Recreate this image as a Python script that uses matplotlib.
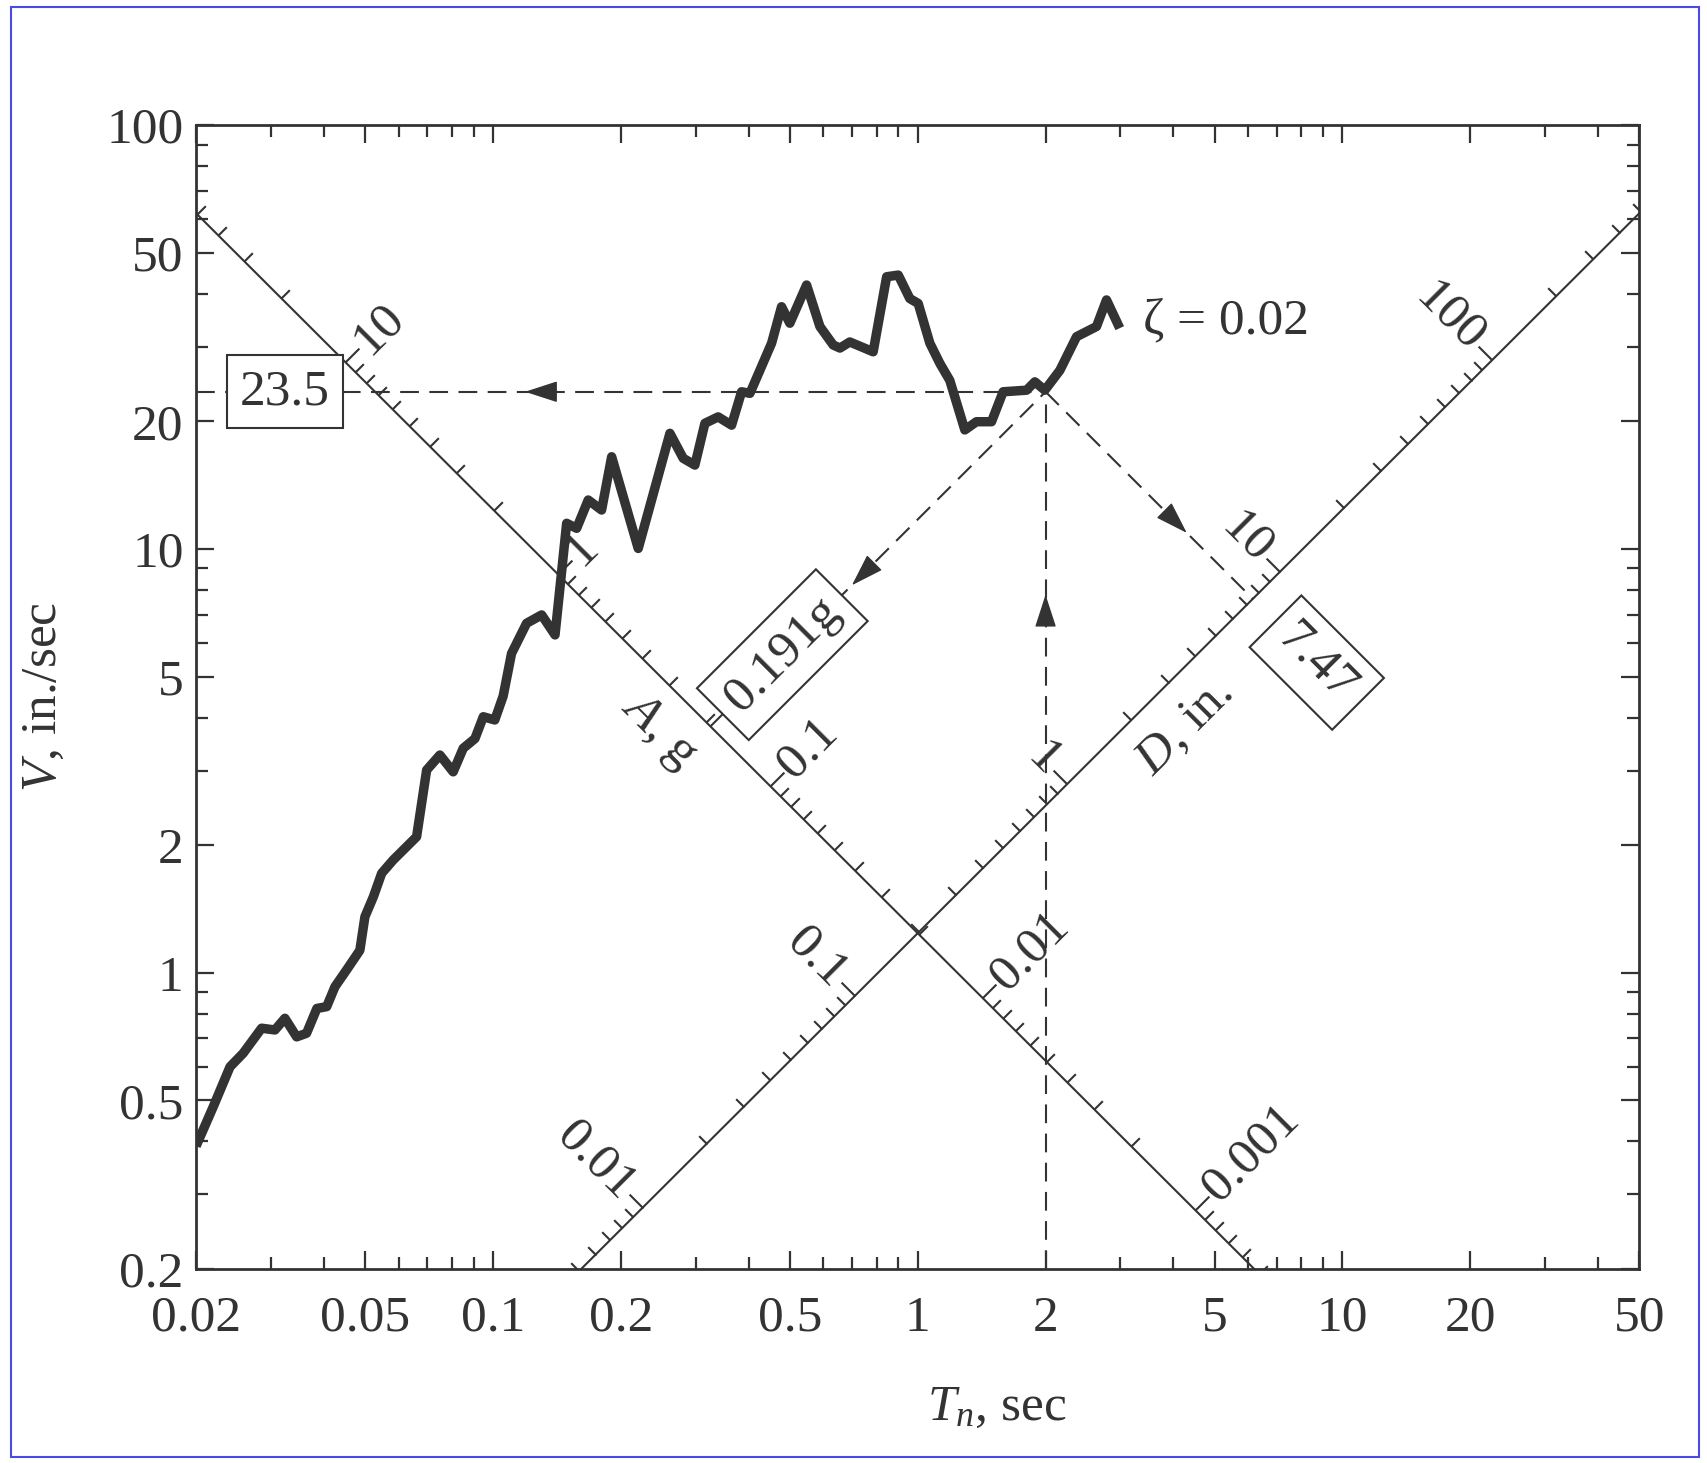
import numpy as np
import matplotlib

matplotlib.use("Agg")
import matplotlib.pyplot as plt  # noqa: E402
from matplotlib.path import Path  # noqa: E402
from matplotlib.patches import Rectangle  # noqa: E402
from matplotlib.ticker import NullFormatter  # noqa: E402

plt.rcParams["font.family"] = ["Liberation Serif", "DejaVu Serif"]
plt.rcParams["mathtext.fontset"] = "custom"
plt.rcParams["mathtext.rm"] = "Liberation Serif"
plt.rcParams["mathtext.it"] = "Liberation Serif:italic"

INK = "#333333"
FS = 37
G = 386.0  # in./sec^2

# ---------------------------------------------------------------------------
# pseudo-velocity spectrum, zeta = 0.02
# ---------------------------------------------------------------------------
T_n = [0.0200, 0.02195, 0.02404, 0.02582, 0.02853, 0.03067, 0.03237, 0.0345,
       0.0364, 0.0385, 0.0406, 0.04246, 0.0452, 0.0486, 0.04995, 0.0523,
       0.0547, 0.0582, 0.0661, 0.0698, 0.0750, 0.0806, 0.0851, 0.0907,
       0.0949, 0.101, 0.1057, 0.1106, 0.120, 0.1302, 0.140, 0.1491, 0.1574,
       0.1676, 0.1802, 0.1903, 0.2198, 0.2610, 0.2805, 0.2988, 0.3155, 0.339,
       0.3646, 0.3849, 0.4027, 0.425, 0.4529, 0.478, 0.500, 0.5475, 0.5885,
       0.6324, 0.656, 0.692, 0.7855, 0.845, 0.90, 0.958, 1.0026, 1.068, 1.128,
       1.19, 1.291, 1.375, 1.492, 1.589, 1.804, 1.887, 1.992, 2.161, 2.366,
       2.636, 2.783, 2.99]
V = [0.39, 0.483, 0.600, 0.646, 0.740, 0.733, 0.781, 0.706, 0.720, 0.824,
     0.832, 0.927, 1.015, 1.13, 1.356, 1.512, 1.717, 1.845, 2.094, 3.009,
     3.265, 2.98, 3.386, 3.57, 4.02, 3.95, 4.5, 5.67, 6.68, 6.99, 6.27, 11.5,
     11.19, 13.05, 12.36, 16.51, 10.03, 18.75, 16.37, 15.78, 19.8, 20.5, 19.6,
     23.5, 23.3, 26.4, 30.6, 37.3, 34.1, 41.97, 33.5, 30.3, 29.8, 30.8, 29.2,
     43.9, 44.3, 39.0, 37.97, 30.6, 27.4, 25.0, 19.1, 19.97, 19.97, 23.5,
     23.7, 24.8, 23.7, 26.4, 31.7, 33.5, 38.7, 33.2]

# worked example at T_n = 2 sec
T_pt, V_pt = 2.0, 23.5
A_pt, D_pt = 0.191, 7.47

# the two diagonal scales: A axis is V*T = c_A, D axis is V/T = b_D
c_A = 1.24
b_D = 1.24

x_ticks = [0.02, 0.05, 0.1, 0.2, 0.5, 1, 2, 5, 10, 20, 50]
x_ticklabels = ["0.02", "0.05", "0.1", "0.2", "0.5", "1", "2", "5", "10", "20", "50"]
x_minor = [0.03, 0.04, 0.06, 0.07, 0.08, 0.09, 0.3, 0.4, 0.6, 0.7, 0.8, 0.9,
           3, 4, 6, 7, 8, 9, 30, 40]
y_ticks = [0.2, 0.5, 1, 2, 5, 10, 20, 50, 100]
y_ticklabels = ["0.2", "0.5", "1", "2", "5", "10", "20", "50", "100"]
y_minor = [0.3, 0.4, 0.6, 0.7, 0.8, 0.9, 3, 4, 6, 7, 8, 9, 30, 40, 60, 70, 80, 90]

A_labels = ["10", "1", "0.1", "0.01", "0.001"]
D_labels = ["0.01", "0.1", "1", "10", "100"]


def on_A_axis(a):
    """Point on the A scale for spectral acceleration a (in g)."""
    t = np.sqrt(2 * np.pi * c_A / (G * np.asarray(a, dtype=float)))
    return t, c_A / t


def on_D_axis(d):
    """Point on the D scale for spectral displacement d (in.)."""
    t = np.sqrt(2 * np.pi * np.asarray(d, dtype=float) / b_D)
    return t, b_D * t


# ---------------------------------------------------------------------------
fig = plt.figure(figsize=(17.08, 14.63), dpi=100)
ax = fig.add_axes([0.1148, 0.1326, 0.8450, 0.7818])
ax.set_xscale("log")
ax.set_yscale("log")
ax.set_xlim(0.02, 50)
ax.set_ylim(0.2, 100)
x0, x1 = ax.get_xlim()
y0, y1 = ax.get_ylim()

ax.set_xticks(x_ticks, labels=x_ticklabels)
ax.set_xticks(x_minor, minor=True)
ax.set_yticks(y_ticks, labels=y_ticklabels)
ax.set_yticks(y_minor, minor=True)
ax.xaxis.set_minor_formatter(NullFormatter())
ax.yaxis.set_minor_formatter(NullFormatter())
ax.tick_params(which="both", direction="in", top=True, right=True,
               color=INK, labelcolor=INK, labelsize=FS, width=1.6)
ax.tick_params(which="major", length=13)
ax.tick_params(which="minor", length=8.5)
ax.tick_params(axis="x", which="major", pad=19)
ax.tick_params(axis="y", which="major", pad=9)
for sp in ax.spines.values():
    sp.set_color(INK)
    sp.set_linewidth(2.0)

# diagonal scales
t_ends = np.array([x0, x1])
ax.plot(t_ends, c_A / t_ends, color=INK, lw=1.5, zorder=2)
ax.plot(t_ends, b_D * t_ends, color=INK, lw=1.5, zorder=2)

tick_vals = np.array([m * 10.0 ** k for k in range(-4, 3) for m in range(1, 10)])
frac = np.log10(tick_vals) % 1
is_decade = np.isclose(frac, 0) | np.isclose(frac, 1)
tick_A = Path([(0, 0), (1, 1)])    # perpendicular, up-right of A axis
tick_D = Path([(0, 0), (-1, 1)])   # perpendicular, up-left of D axis
for sel, ms in ((~is_decade, 12), (is_decade, 20)):
    ta, va = on_A_axis(tick_vals[sel])
    ax.plot(ta, va, ls="none", marker=tick_A, ms=ms, mew=1.5, mec=INK, zorder=2)
    td, vd = on_D_axis(tick_vals[sel])
    ax.plot(td, vd, ls="none", marker=tick_D, ms=ms, mew=1.5, mec=INK, zorder=2)

off = 11  # points, along the perpendicular
for lab in A_labels:
    t, v = on_A_axis(float(lab))
    ax.annotate(lab, (t, v), xytext=(off, off), textcoords="offset points",
                rotation=45, rotation_mode="anchor", ha="left", va="center",
                fontsize=FS, color=INK)
for lab in D_labels:
    t, v = on_D_axis(float(lab))
    ax.annotate(lab, (t, v), xytext=(-off, off), textcoords="offset points",
                rotation=-45, rotation_mode="anchor", ha="right", va="center",
                fontsize=FS, color=INK)

ax.text(0.2458, 3.70, "$A$, g", rotation=-45, ha="center", va="center",
        fontsize=FS, color=INK, rotation_mode="anchor")
ax.text(4.26, 3.78, "$D$, in.", rotation=45, ha="center", va="center",
        fontsize=FS, color=INK, rotation_mode="anchor")

# construction lines for the worked example
dash = dict(color=INK, lw=1.5, ls=(0, (9, 5)), zorder=3)
k_A = A_pt * G / (2 * np.pi)     # constant-A line: V = k_A * T
m_D = 2 * np.pi * D_pt           # constant-D line: V = m_D / T
tA = np.sqrt(c_A / k_A)
tD = np.sqrt(m_D / b_D)
ax.plot([x0, T_pt], [V_pt, V_pt], **dash)
ax.plot([T_pt, T_pt], [y0, V_pt], **dash)
ax.plot([tA, T_pt], [k_A * tA, V_pt], **dash)
ax.plot([T_pt, tD], [V_pt, m_D / tD], **dash)

arrow = dict(arrowstyle="-|>,head_length=0.4,head_width=0.13", color=INK,
             lw=1.0, mutation_scale=52, shrinkA=0, shrinkB=0)
step = 10 ** 0.05
t_h = 0.119
ax.annotate("", xy=(t_h, V_pt), xytext=(t_h * step ** 1.4, V_pt), arrowprops=arrow, zorder=5)
v_up = 7.8
ax.annotate("", xy=(T_pt, v_up), xytext=(T_pt, v_up / step ** 1.4), arrowprops=arrow, zorder=5)
t_a = 0.70
ax.annotate("", xy=(t_a, k_A * t_a), xytext=(t_a * step, k_A * t_a * step),
            arrowprops=arrow, zorder=5)
t_d = 4.3
ax.annotate("", xy=(t_d, m_D / t_d), xytext=(t_d / step, m_D * step / t_d),
            arrowprops=arrow, zorder=5)

box = dict(boxstyle="square,pad=0.26", fc="white", ec=INK, lw=1.5)
ax.text(0.0324, V_pt, f"{V_pt:g}", ha="center", va="center", fontsize=FS,
        color=INK, bbox=box, zorder=6)
ax.text(0.48, k_A * 0.48, f"{A_pt:g}g", ha="center", va="center", fontsize=FS,
        color=INK, rotation=45, rotation_mode="anchor", bbox=box, zorder=6)
ax.text(8.7, m_D / 8.7, f"{D_pt:g}", ha="center", va="center", fontsize=FS,
        color=INK, rotation=-45, rotation_mode="anchor", bbox=box, zorder=6)

# spectrum
ax.plot(T_n, V, color=INK, lw=6.8, solid_joinstyle="round", solid_capstyle="butt", zorder=4)
ax.text(3.4, 34.5, "ζ = 0.02", ha="left", va="center", fontsize=FS, color=INK)

ax.set_xlabel("$T_n$, sec", fontsize=FS, color=INK)
ax.set_ylabel("$V$, in./sec", fontsize=FS, color=INK)
ax.xaxis.label.set_va("center")
ax.yaxis.label.set_va("center")
ax.xaxis.set_label_coords(0.5549, -0.1215)
ax.yaxis.set_label_coords(-0.1054, 0.500)

# thin blue frame round the scanned page
fig.patches.append(Rectangle((11 / 1708, 6 / 1463), 1688 / 1708, 1450 / 1463,
                             transform=fig.transFigure, fill=False,
                             ec="#4a4ae6", lw=1.5))

fig.savefig("out.png", dpi=100, facecolor="white")
